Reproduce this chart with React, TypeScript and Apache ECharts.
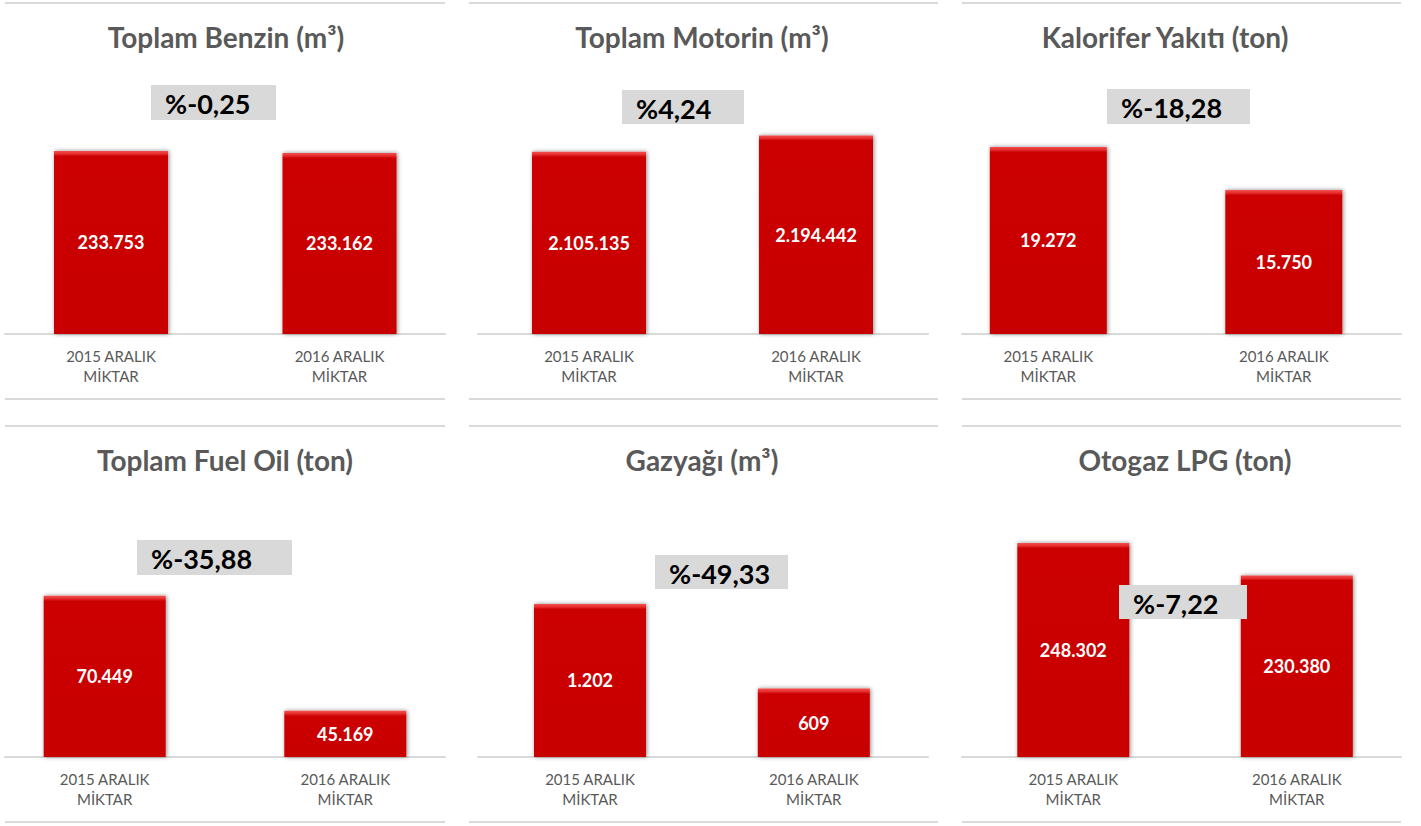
import React, { useEffect, useRef } from "react";
import * as echarts from "echarts";

// ---- data ----
const categories = ["2015 ARALIK\nMİKTAR", "2016 ARALIK\nMİKTAR"];
const titles = [
  "Toplam Benzin (m³)",
  "Toplam Motorin (m³)",
  "Kalorifer Yakıtı (ton)",
  "Toplam Fuel Oil (ton)",
  "Gazyağı (m³)",
  "Otogaz LPG (ton)",
];
const benzin = [233753, 233162];
const motorin = [2105135, 2194442];
const kalorifer = [19272, 15750];
const fuelOil = [70449, 45169];
const gazyagi = [1202, 609];
const otogaz = [248302, 230380];
const changes = ["%-0,25", "%4,24", "%-18,28", "%-35,88", "%-49,33", "%-7,22"];
const axisMin = [180000, 1100000, 4000, 35000, 130, 130000];
const axisMax = [248700, 2390000, 23100, 87100, 1790, 261000];

const seriesData = [benzin, motorin, kalorifer, fuelOil, gazyagi, otogaz];

// ---- layout (positions / styles only) ----
const rows = [
  { top: 100, baseline: 334, lineTop: 3, lineBottom: 399, titleY: 37 },
  { top: 520, baseline: 757, lineTop: 426, lineBottom: 822, titleY: 460 },
];
// base: plot-area extent (axis line); c: pixel centres of the two category slots
const panels = [
  { row: 0, base: [5, 445], c: [111, 339.5], bw: 114, titleX: 226, box: [151, 85, 125, 35], line: [5, 445] },
  { row: 0, base: [478, 928], c: [589, 816], bw: 114, titleX: 702, box: [622, 90, 122, 34], line: [469, 938] },
  { row: 0, base: [962, 1401], c: [1048.3, 1283.8], bw: 117, titleX: 1165, box: [1107, 89, 143, 35], line: [962, 1401] },
  { row: 1, base: [5, 445], c: [104.7, 345.3], bw: 122, titleX: 225, box: [137, 540, 155, 35], line: [5, 445] },
  { row: 1, base: [478, 928], c: [590, 813.8], bw: 112, titleX: 702, box: [655, 555, 133, 34], line: [469, 938] },
  { row: 1, base: [962, 1401], c: [1073.3, 1296.8], bw: 112, titleX: 1185, box: [1119, 585, 128, 34], line: [962, 1401] },
];

const W = 1421;
const H = 826;
const FONT = "Lato, 'Open Sans', sans-serif";
const GREY_TEXT = "#595959";
const LINE = "#D9D9D9";

const fmt = (v: number) => String(v).replace(/\B(?=(\d{3})+(?!\d))/g, ".");

export default function App() {
  const ref = useRef<HTMLDivElement>(null);
  useEffect(() => {
    if (!ref.current) return;
    document.body.style.margin = "0";
    const chart = echarts.init(ref.current, null, { renderer: "svg", width: W, height: H });

    const grid: any[] = [];
    const xAxis: any[] = [];
    const yAxis: any[] = [];
    const series: any[] = [];
    const graphic: any[] = [];

    panels.forEach((p, i) => {
      const r = rows[p.row];
      const plotH = r.baseline - r.top;
      const gw = p.base[1] - p.base[0];
      const unit = p.c[1] - p.c[0];
      const xMin = -(p.c[0] - p.base[0]) / unit;
      const xMax = xMin + gw / unit;
      grid.push({ left: p.base[0], width: gw, top: r.top, bottom: H - r.baseline, containLabel: false });
      xAxis.push({
        type: "value",
        gridIndex: i,
        min: xMin,
        max: xMax,
        splitLine: { show: false },
        axisLine: { show: true, onZero: false, lineStyle: { color: LINE, width: 2 } },
        axisTick: { show: false },
        axisLabel: {
          customValues: [0, 1],
          formatter: (v: number) => categories[Math.round(v)] ?? "",
          color: GREY_TEXT,
          fontSize: 15,
          lineHeight: 20,
          margin: 12,
          fontFamily: FONT,
        },
      });
      yAxis.push({
        type: "value",
        gridIndex: i,
        min: axisMin[i],
        max: axisMax[i],
        show: false,
        splitLine: { show: false },
      });
      series.push({
        type: "bar",
        xAxisIndex: i,
        yAxisIndex: i,
        barWidth: p.bw,
        z: 3,
        data: seriesData[i].map((v, k) => {
          const hPx = ((v - axisMin[i]) / (axisMax[i] - axisMin[i])) * plotH;
          const f = Math.min(0.3, 5 / hPx);
          return {
            value: [k, v],
            itemStyle: {
              color: new echarts.graphic.LinearGradient(0, 0, 0, 1, [
                { offset: 0, color: "#f45050" },
                { offset: f * 0.6, color: "#e62c2c" },
                { offset: f, color: "#cc0404" },
                { offset: 1, color: "#c80000" },
              ]),
              shadowColor: "rgba(0,0,0,0.45)",
              shadowBlur: 4,
              shadowOffsetX: 1,
              shadowOffsetY: 0,
            },
          };
        }),
        label: {
          show: true,
          position: "inside",
          color: "#ffffff",
          fontWeight: "bold",
          fontSize: 18,
          fontFamily: FONT,
          formatter: (d: any) => fmt(d.value[1]),
        },
      });

      // separator lines
      graphic.push({
        type: "line",
        z: 0,
        shape: { x1: p.line[0], y1: r.lineTop, x2: p.line[1], y2: r.lineTop },
        style: { stroke: LINE, lineWidth: 2 },
      });
      graphic.push({
        type: "line",
        z: 0,
        shape: { x1: p.line[0], y1: r.lineBottom, x2: p.line[1], y2: r.lineBottom },
        style: { stroke: LINE, lineWidth: 2 },
      });
      // title
      graphic.push({
        type: "text",
        x: p.titleX,
        y: r.titleY,
        z: 10,
        style: {
          text: titles[i],
          fill: GREY_TEXT,
          font: `bold 28px ${FONT}`,
          align: "center",
          verticalAlign: "middle",
        },
      });
      // change box
      const [bx, by, bw, bh] = p.box;
      graphic.push({
        type: "rect",
        z: 10,
        shape: { x: bx, y: by, width: bw, height: bh },
        style: { fill: "#D9D9D9" },
      });
      graphic.push({
        type: "text",
        z: 11,
        x: bx + 14,
        y: by + bh / 2 + 1,
        style: {
          text: changes[i],
          fill: "#000000",
          font: `bold 27px ${FONT}`,
          align: "left",
          verticalAlign: "middle",
        },
      });
    });

    chart.setOption({
      animation: false,
      backgroundColor: "#ffffff",
      grid,
      xAxis,
      yAxis,
      series,
      graphic,
    });
    return () => chart.dispose();
  }, []);
  return <div ref={ref} style={{ position: "fixed", left: 0, top: 0, width: W, height: H }} />;
}
